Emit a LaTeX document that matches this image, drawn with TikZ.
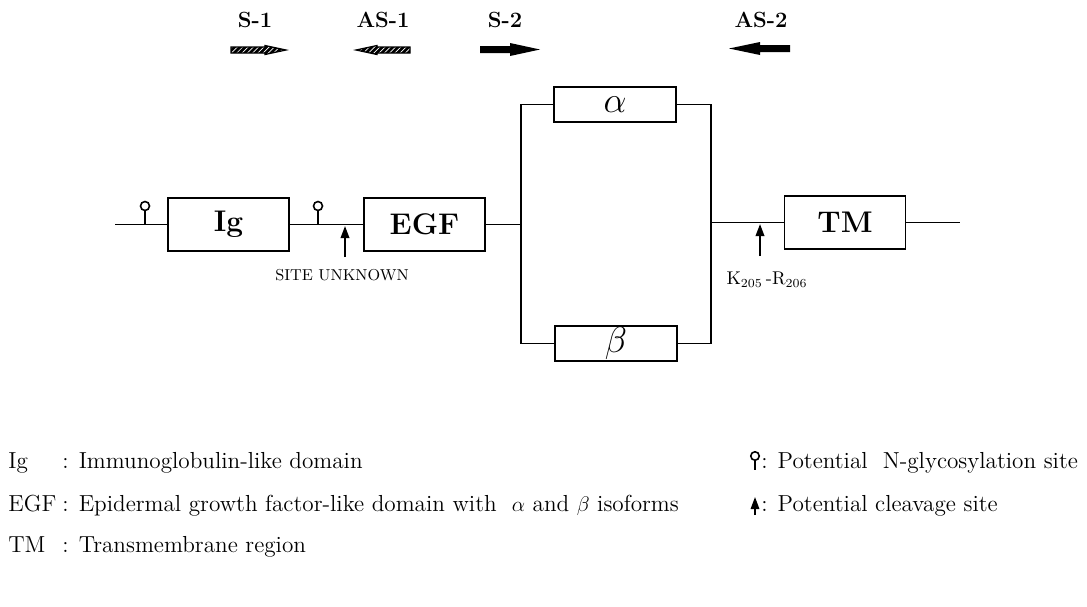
\documentclass[tikz,border=0pt]{standalone}
\usepackage{tikz}
\usetikzlibrary{arrows.meta,patterns}
\tikzset{
    domainbox/.style={draw, line width=1.1pt, minimum width=2.42cm, minimum height=1.06cm, inner sep=0pt, font=\fontsize{17}{19}\selectfont\bfseries},
    isoform/.style={draw, line width=1.1pt, minimum width=2.44cm, minimum height=0.7cm, inner sep=0pt, font=\fontsize{20}{22}\selectfont},
    primer/.style={inner sep=0pt, font=\fontsize{12.5}{14}\selectfont\bfseries},
    link/.style={line width=1.1pt},
    glyc/.style={circle, draw, line width=0.9pt, minimum size=0.18cm, inner sep=0pt},
    cleave/.style={line width=1.1pt, -{Triangle[length=0.24cm,width=0.17cm]}},
    hatched/.style={draw, line width=0.7pt, preaction={fill=black}, pattern=north east lines, pattern color=white},
    legend/.style={anchor=base west, inner sep=0pt, font=\fontsize{13.2}{15}\selectfont},
}
\begin{document}
\begin{tikzpicture}[x=0.02cm, y=-0.02cm]
    \useasboundingbox (0,0) rectangle (1087,606);
    % primers
    \node[primer] (s1) at (255,20) {S-1};
    \node[primer] (as1) at (383,20) {AS-1};
    \node[primer] (s2) at (505,20) {S-2};
    \node[primer] (as2) at (761,20) {AS-2};
    \draw[hatched] (231,47) -- (265,47) -- (265,45.5) -- (286,50) -- (265,54.5) -- (265,53) -- (231,53) -- cycle;
    \draw[hatched] (410,47) -- (377,47) -- (377,45.5) -- (356,50) -- (377,54.5) -- (377,53) -- (410,53) -- cycle;
    \fill (480,46) -- (510,46) -- (510,43) -- (540,49.5) -- (510,56) -- (510,53) -- (480,53) -- cycle;
    \fill (790,45) -- (760,45) -- (760,42) -- (729,48.5) -- (760,55) -- (760,52) -- (790,52) -- cycle;
    % domains
    \node[domainbox] (ig) at (228.5,224.5) {Ig};
    \node[domainbox] (egf) at (424.5,224.5) {EGF};
    \node[domainbox] (tm) at (845,222.5) {TM};
    \node[isoform] (alpha) at (615,104.5) {$\alpha$};
    \node[isoform] (beta) at (616,343.5) {$\beta$};
    \coordinate (lend) at (115,224.5);
    \coordinate (rend) at (960,222.5);
    \coordinate (bl) at (521,224.5);
    \coordinate (br) at (711,222.5);
    \draw[link] (lend) -- (ig);
    \draw[link] (ig) -- (egf);
    \draw[link] (egf.east) -- (bl);
    \draw[link] (alpha.west) -| (bl) |- (beta.west);
    \draw[link] (alpha.east) -| (br) |- (beta.east);
    \draw[link] (br) -- (tm.west);
    \draw[link] (tm) -- (rend);
    % sites
    \node[glyc] (g1) at (145,206) {};
    \node[glyc] (g2) at (318,206) {};
    \coordinate (g1b) at (145,224.5);
    \coordinate (g2b) at (318,224.5);
    \draw[line width=0.9pt] (g1) -- (g1b);
    \draw[line width=0.9pt] (g2) -- (g2b);
    \coordinate (c1s) at (345,257);
    \coordinate (c1) at (345,226);
    \coordinate (c2s) at (760,256);
    \coordinate (c2) at (760,224);
    \draw[cleave] (c1s) -- (c1);
    \draw[cleave] (c2s) -- (c2);
    \node[inner sep=0pt, font=\fontsize{9}{11}\selectfont] (unk) at (342,275) {SITE UNKNOWN};
    \node[inner sep=0pt, font=\fontsize{10.5}{12}\selectfont] (krange) at (767,280) {K$_{205}$\,-R$_{206}$};
    % legend
    \node[legend] (kig) at (8,468) {Ig};
    \node[legend] (kegf) at (8,511) {EGF};
    \node[legend] (ktm) at (8,552) {TM};
    \node[legend] (degf) at ([xshift=3pt]kegf.base east) {: Epidermal growth factor-like domain with\ \ $\alpha$ and $\beta$ isoforms};
    \node[legend] (dig) at (degf.base west |- kig.base) {: Immunoglobulin-like domain};
    \node[legend] (dtm) at (degf.base west |- ktm.base) {: Transmembrane region};
    \node[glyc, minimum size=0.17cm] (lg) at (755,456) {};
    \coordinate (lgb) at (755,470);
    \draw[line width=0.8pt] (lg) -- (lgb);
    \node[legend] (dglyc) at (761,468) {: Potential\ \ N-glycosylation site};
    \coordinate (lcs) at (755,515);
    \coordinate (lc) at (755,497);
    \draw[cleave, line width=0.9pt] (lcs) -- (lc);
    \node[legend] (dcleave) at (761,511) {: Potential cleavage site};
\end{tikzpicture}
\end{document}
